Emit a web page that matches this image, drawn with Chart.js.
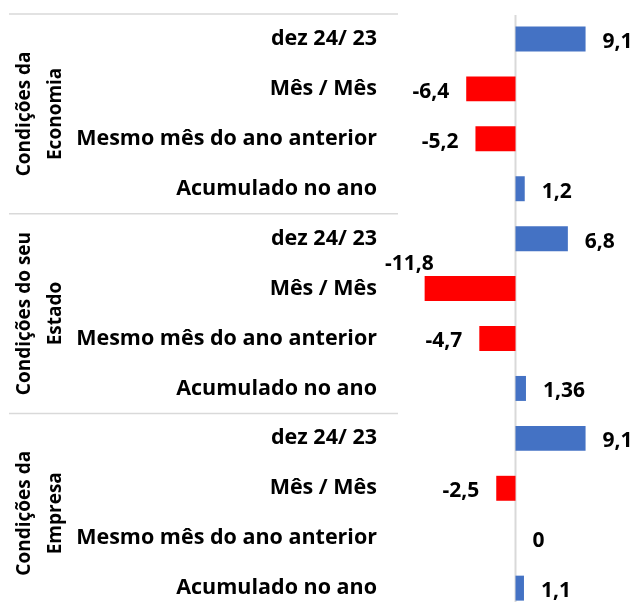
<!DOCTYPE html>
<html>
<head>
<meta charset="utf-8">
<script src="https://cdn.jsdelivr.net/npm/chart.js@4"></script>
<style>
html, body { margin: 0; padding: 0; overflow: hidden; background: #fff; }
#wrap { width: 633px; height: 626px; }
</style>
</head>
<body>
<div id="wrap"><canvas id="indicesChart"></canvas></div>
<script>
// rows, top to bottom
const categories = [
    'dez 24/ 23', 'Mês / Mês', 'Mesmo mês do ano anterior', 'Acumulado no ano',
    'dez 24/ 23', 'Mês / Mês', 'Mesmo mês do ano anterior', 'Acumulado no ano',
    'dez 24/ 23', 'Mês / Mês', 'Mesmo mês do ano anterior', 'Acumulado no ano'
];
const groups = [
    ['Condições da', 'Economia'],
    ['Condições do seu', 'Estado'],
    ['Condições da', 'Empresa']
];
const values = [9.1, -6.4, -5.2, 1.2, 6.8, -11.8, -4.7, 1.36, 9.1, -2.5, 0, 1.1];
const rowsPerGroup = 4;

const BLUE = '#4472C4';
const RED = '#FF0000';
const LINE = '#D9D9D9';
const FONT = '"Open Sans"';

const decorations = {
    id: 'decorations',
    beforeDatasetsDraw(chart) {
        const {ctx, chartArea, scales: {x, y}} = chart;
        ctx.save();
        ctx.strokeStyle = LINE;
        // zero line
        ctx.lineWidth = 2;
        const x0 = x.getPixelForValue(0);
        ctx.beginPath();
        ctx.moveTo(x0, chartArea.top + 1);
        ctx.lineTo(x0, chartArea.bottom);
        ctx.stroke();
        // group separators across the label area
        ctx.lineWidth = 1.5;
        for (let g = 0; g <= groups.length; g++) {
            const yy = y.getPixelForValue(g * rowsPerGroup - 0.5);
            ctx.beginPath();
            ctx.moveTo(9, yy);
            ctx.lineTo(chartArea.left - 2, yy);
            ctx.stroke();
        }
        ctx.restore();
    },
    afterDatasetsDraw(chart) {
        const {ctx, chartArea, scales: {y}} = chart;
        const meta = chart.getDatasetMeta(0);
        ctx.save();
        ctx.fillStyle = '#000';
        ctx.textBaseline = 'middle';
        ctx.font = 'bold 21px ' + FONT;
        meta.data.forEach((bar, i) => {
            const v = values[i];
            const txt = String(v).replace('.', ',');
            const w = ctx.measureText(txt).width;
            let tx = bar.x, ty = bar.y + 3;
            if (v >= 0) {
                ctx.textAlign = 'left';
                tx += 17;
            } else if (bar.x - 17 - w < chartArea.left - 16) {
                // no room on the left: sit above the bar
                ctx.textAlign = 'left';
                tx = chartArea.left - 15;
                ty -= 28;
            } else {
                ctx.textAlign = 'right';
                tx -= 17;
            }
            ctx.fillText(txt, tx, ty);
        });

        // rotated group titles
        ctx.font = 'bold 19px ' + FONT;
        ctx.textAlign = 'center';
        groups.forEach((lines, g) => {
            const top = y.getPixelForValue(g * rowsPerGroup - 0.5);
            const bottom = y.getPixelForValue((g + 1) * rowsPerGroup - 0.5);
            const cy = (top + bottom) / 2;
            lines.forEach((line, k) => {
                ctx.save();
                ctx.translate(25 + k * 31, cy);
                ctx.rotate(-Math.PI / 2);
                ctx.fillText(line, 0, 0);
                ctx.restore();
            });
        });
        ctx.restore();
    }
};

function draw() {
    const el = document.getElementById('indicesChart').getContext('2d');
    new Chart(el, {
        type: 'bar',
        data: {
            labels: categories,
            datasets: [{
                data: values,
                backgroundColor: values.map(v => v >= 0 ? BLUE : RED),
                barPercentage: 0.5,
                categoryPercentage: 1
            }]
        },
        options: {
            indexAxis: 'y',
            responsive: true,
            maintainAspectRatio: false,
            animation: false,
            layout: { padding: { top: 14, right: 2, bottom: 0, left: 0 } },
            plugins: {
                legend: { display: false },
                tooltip: { enabled: false }
            },
            scales: {
                x: {
                    display: false,
                    min: -15,
                    max: 15
                },
                y: {
                    grid: {
                        display: true,
                        color: 'rgba(0,0,0,0)',
                        drawOnChartArea: false,
                        drawTicks: true,
                        tickLength: 23
                    },
                    border: { display: false },
                    afterFit(scale) { scale.width = 400; },
                    ticks: {
                        padding: 0,
                        color: '#000',
                        font: { family: FONT, size: 21.5, weight: 'bold' },
                        autoSkip: false
                    }
                }
            }
        },
        plugins: [decorations]
    });
}

document.fonts.load('bold 21px ' + FONT).then(draw, draw);
</script>
</body>
</html>
